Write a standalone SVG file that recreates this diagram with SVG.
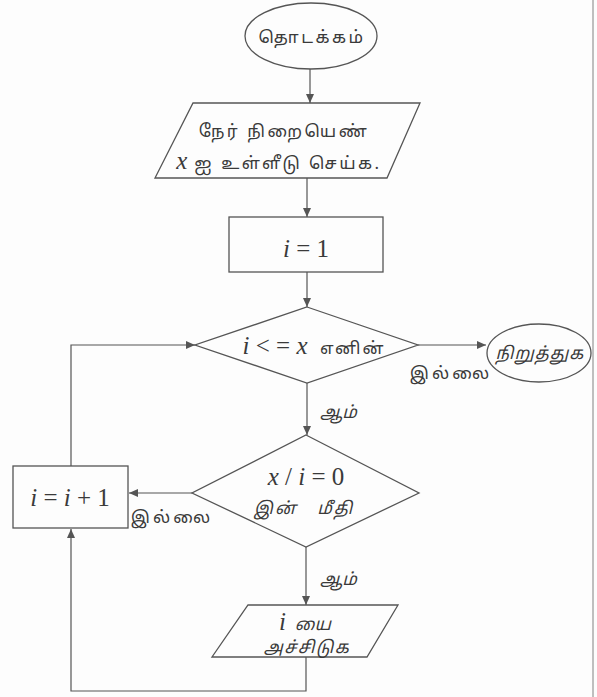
<svg xmlns="http://www.w3.org/2000/svg" width="597" height="697" viewBox="0 0 597 697">
  <style>
    .shape { fill: none; stroke: #555; stroke-width: 1.3; }
    .conn { fill: none; stroke: #555; stroke-width: 1.2; }
    .ta { font-family: "Noto Sans Tamil", "Noto Serif Tamil", "Lohit Tamil", "Noto Sans", "DejaVu Sans", sans-serif; fill: #3a3a3a; font-size: 17px; }
    .it { font-style: italic; }
    .m { font-family: "Liberation Serif", "DejaVu Serif", serif; fill: #3a3a3a; font-size: 25px; }
    .mi { font-style: italic; }
  </style>
  <defs>
    <marker id="arr" markerWidth="10" markerHeight="8" refX="9" refY="4" orient="auto" markerUnits="userSpaceOnUse">
      <path d="M0,0 L9,4 L0,8 Z" fill="#555"/>
    </marker>
  </defs>
  <rect x="0" y="0" width="597" height="697" fill="#fdfdfd"/>
  <line x1="593" y1="0" x2="593" y2="697" stroke="#aaa" stroke-width="1.5"/>

  <g id="connectors">
    <line class="conn" x1="310" y1="69" x2="310" y2="103" marker-end="url(#arr)"/>
    <line class="conn" x1="307" y1="178" x2="307" y2="217" marker-end="url(#arr)"/>
    <line class="conn" x1="307" y1="272" x2="307" y2="307" marker-end="url(#arr)"/>
    <line class="conn" x1="418" y1="345" x2="486" y2="345" marker-end="url(#arr)"/>
    <line class="conn" x1="307" y1="383" x2="307" y2="435" marker-end="url(#arr)"/>
    <line class="conn" x1="192" y1="493" x2="129" y2="493" marker-end="url(#arr)"/>
    <line class="conn" x1="306" y1="547" x2="306" y2="605" marker-end="url(#arr)"/>
    <polyline class="conn" points="306,657 306,691 71,691 71,529" marker-end="url(#arr)"/>
    <polyline class="conn" points="71,466 71,345 195,345" marker-end="url(#arr)"/>
    <text class="ta" x="451" y="379" text-anchor="middle" font-size="18" letter-spacing="3">இல்லை</text>
    <text class="ta it" x="320" y="418" font-size="18">ஆம்</text>
    <text class="ta" x="172" y="523" text-anchor="middle" font-size="18" letter-spacing="3">இல்லை</text>
    <text class="ta it" x="320" y="585" font-size="18">ஆம்</text>
  </g>

  <g id="start">
    <ellipse class="shape" cx="311" cy="36" rx="66" ry="33"/>
    <text class="ta" x="312" y="43" text-anchor="middle" font-size="19" letter-spacing="2.5">தொடக்கம்</text>
  </g>

  <g id="input">
    <polygon class="shape" points="193,103 420,103 387,178 155,178"/>
    <text class="ta" x="284" y="137" text-anchor="middle" font-size="18" letter-spacing="2.5">நேர் நிறையெண்</text>
    <text class="ta" x="279" y="169" text-anchor="middle" font-size="18" letter-spacing="2.5"><tspan class="m mi" font-size="23" letter-spacing="0">x</tspan>  ஐ  உள்ளீடு  செய்க.</text>
  </g>

  <g id="init">
    <rect class="shape" x="229" y="217" width="154" height="55"/>
    <text class="m" x="306" y="257" text-anchor="middle" font-size="26"><tspan class="mi">i</tspan> = 1</text>
  </g>

  <g id="cond1">
    <polygon class="shape" points="307,307 418,345 307,383 195,345"/>
    <text class="m" x="314" y="354" text-anchor="middle" font-size="26" xml:space="preserve"><tspan class="mi">i</tspan> &lt; = <tspan class="mi">x</tspan>  <tspan class="ta" font-size="17" letter-spacing="2">எனின்</tspan></text>
  </g>

  <g id="stop">
    <ellipse class="shape" cx="539" cy="353" rx="52" ry="29"/>
    <text class="ta it" x="540" y="359" text-anchor="middle" font-size="18" letter-spacing="1">நிறுத்துக</text>
  </g>

  <g id="cond2">
    <polygon class="shape" points="306,435 419,493 306,547 192,493"/>
    <text class="m" x="306" y="485" text-anchor="middle" font-size="26"><tspan class="mi">x</tspan> / <tspan class="mi">i</tspan> = 0</text>
    <text class="ta it" x="304" y="514" text-anchor="middle" font-size="18" letter-spacing="2" xml:space="preserve">இன்   மீதி</text>
  </g>

  <g id="incr">
    <rect class="shape" x="13" y="466" width="115" height="62"/>
    <text class="m" x="70" y="506" text-anchor="middle" font-size="26"><tspan class="mi">i</tspan> = <tspan class="mi">i</tspan> + 1</text>
  </g>

  <g id="output">
    <polygon class="shape" points="248,605 398,605 367,657 212,657"/>
    <text class="ta it" x="305" y="630" text-anchor="middle" font-size="18" xml:space="preserve"><tspan class="m mi" font-size="24">i</tspan>  யை</text>
    <text class="ta it" x="307" y="653" text-anchor="middle" font-size="18" letter-spacing="1.5">அச்சிடுக</text>
  </g>
</svg>
